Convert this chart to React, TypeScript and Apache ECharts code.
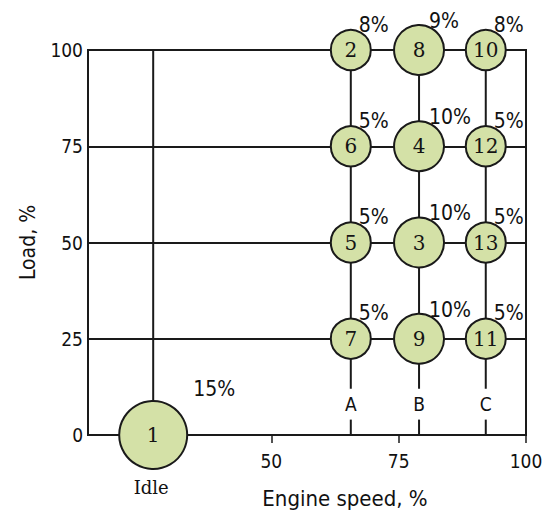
import React, { useEffect, useRef } from "react";
import * as echarts from "echarts";

// ---- data ----
const speedNames = ["Idle", "A", "B", "C"];
const speedValues = [26.8, 65.6, 79, 92.1]; // engine speed, %
const loadTicks = [0, 25, 50, 75, 100];
const speedTicks = [50, 75, 100];

const modeNumbers = [1, 2, 8, 10, 6, 4, 12, 5, 3, 13, 7, 9, 11];
const modeSpeed = ["Idle", "A", "B", "C", "A", "B", "C", "A", "B", "C", "A", "B", "C"];
const modeLoad = [0, 100, 100, 100, 75, 75, 75, 50, 50, 50, 25, 25, 25];
const modeWeight = [15, 8, 9, 8, 5, 10, 5, 5, 10, 5, 5, 10, 5]; // %

const SANS = "'DejaVu Sans Condensed', 'DejaVu Sans', sans-serif";
const SERIF = "'DejaVu Serif', serif";
const INK = "#1a1a1a";
const TEXT = "#111";
const FILL = "#d4e1a7";

const speedOf = (name: string) => speedValues[speedNames.indexOf(name)];
const sizeFor = (w: number) => (w >= 15 ? 68 : w >= 9 ? 50 : 40);

export default function App() {
  const ref = useRef<HTMLDivElement>(null);
  useEffect(() => {
    if (!ref.current) return;
    const chart = echarts.init(ref.current, undefined, { renderer: "svg" });

    const modePoints = modeNumbers.map((n, i) => ({
      value: [speedOf(modeSpeed[i]), modeLoad[i]],
      name: String(n),
      symbolSize: sizeFor(modeWeight[i]),
    }));

    const weightPoints = modeNumbers.map((n, i) => {
      const r = sizeFor(modeWeight[i]) / 2;
      const big = modeWeight[i] >= 15;
      return {
        value: [speedOf(modeSpeed[i]), modeLoad[i]],
        name: modeWeight[i] + "%",
        label: {
          offset: big ? [40, -36] : [0.4 * r, -0.75 * r],
        },
      };
    });

    const lineStyle = { color: INK, width: 2 };
    const vLines: any[] = [];
    vLines.push({
      type: "line",
      data: [
        [speedValues[0], 0],
        [speedValues[0], 100],
      ],
      symbol: "none",
      lineStyle,
      silent: true,
      z: 1,
    });
    speedNames.slice(1).forEach((nm) => {
      const s = speedOf(nm);
      vLines.push({
        type: "line",
        data: [
          [s, 100],
          [s, 12],
        ],
        symbol: "none",
        lineStyle,
        silent: true,
        z: 1,
      });
      vLines.push({
        type: "line",
        data: [
          [s, 0],
          [s, 4],
        ],
        symbol: "none",
        lineStyle,
        silent: true,
        z: 1,
      });
    });

    const textLabel = (extra: any) => ({
      show: true,
      position: [0, 0],
      formatter: "{b}",
      fontFamily: SANS,
      color: TEXT,
      opacity: 1,
      ...extra,
    });

    chart.setOption({
      animation: false,
      grid: {
        left: 88,
        right: 20,
        top: 50,
        bottom: 83,
        show: true,
        borderColor: INK,
        borderWidth: 2,
        backgroundColor: "transparent",
      },
      xAxis: {
        type: "value",
        min: 14,
        max: 100,
        axisLine: { show: true, lineStyle: { color: INK, width: 2 } },
        axisTick: {
          show: true,
          customValues: speedTicks,
          length: 8,
          lineStyle: { color: INK, width: 1.5 },
        },
        axisLabel: {
          customValues: speedTicks,
          fontFamily: SANS,
          fontSize: 19,
          color: TEXT,
          margin: 16,
        },
        splitLine: { show: false },
      },
      yAxis: {
        type: "value",
        min: 0,
        max: 100,
        interval: 25,
        axisLine: { show: true, lineStyle: { color: INK, width: 2 } },
        axisTick: { show: false },
        axisLabel: {
          fontFamily: SANS,
          fontSize: 19,
          color: TEXT,
          margin: 5,
          formatter: (v: number) => (loadTicks.includes(v) ? String(v) : ""),
        },
        name: "Load, %",
        nameLocation: "middle",
        nameGap: 50,
        nameTextStyle: { fontFamily: SANS, fontSize: 21, color: TEXT },
        splitLine: { show: true, lineStyle: { color: INK, width: 2 } },
      },
      graphic: [
        {
          type: "text",
          x: 345,
          y: 498,
          style: {
            text: "Engine speed, %",
            font: `22px ${SANS}`,
            fill: TEXT,
            textAlign: "center",
            textVerticalAlign: "middle",
          },
        },
      ],
      series: [
        ...vLines,
        {
          type: "scatter",
          name: "modes",
          data: modePoints,
          clip: false,
          z: 3,
          itemStyle: { color: FILL, borderColor: INK, borderWidth: 2, opacity: 1 },
          label: {
            show: true,
            position: "inside",
            formatter: "{b}",
            fontFamily: SERIF,
            fontSize: 20,
            color: "#141414",
            opacity: 1,
          },
        },
        {
          type: "scatter",
          name: "weights",
          data: weightPoints,
          clip: false,
          symbolSize: 0,
          z: 4,
          itemStyle: { opacity: 1 },
          label: textLabel({ align: "left", verticalAlign: "bottom", fontSize: 21 }),
        },
        {
          type: "scatter",
          name: "speedLabels",
          data: speedNames.slice(1).map((nm) => ({ value: [speedOf(nm), 8], name: nm })),
          symbolSize: 0,
          clip: false,
          z: 4,
          itemStyle: { opacity: 1 },
          label: textLabel({ align: "center", verticalAlign: "middle", fontSize: 19 }),
        },
        {
          type: "scatter",
          name: "idleLabel",
          data: [{ value: [speedValues[0], 0], name: speedNames[0] }],
          symbolSize: 0,
          clip: false,
          z: 4,
          itemStyle: { opacity: 1 },
          label: textLabel({
            offset: [-2, 52],
            align: "center",
            verticalAlign: "middle",
            fontFamily: SERIF,
            fontSize: 18,
          }),
        },
      ],
    });
    return () => chart.dispose();
  }, []);
  return (
    <div
      ref={ref}
      style={{ position: "absolute", left: 0, top: 0, width: 546, height: 518 }}
    />
  );
}
